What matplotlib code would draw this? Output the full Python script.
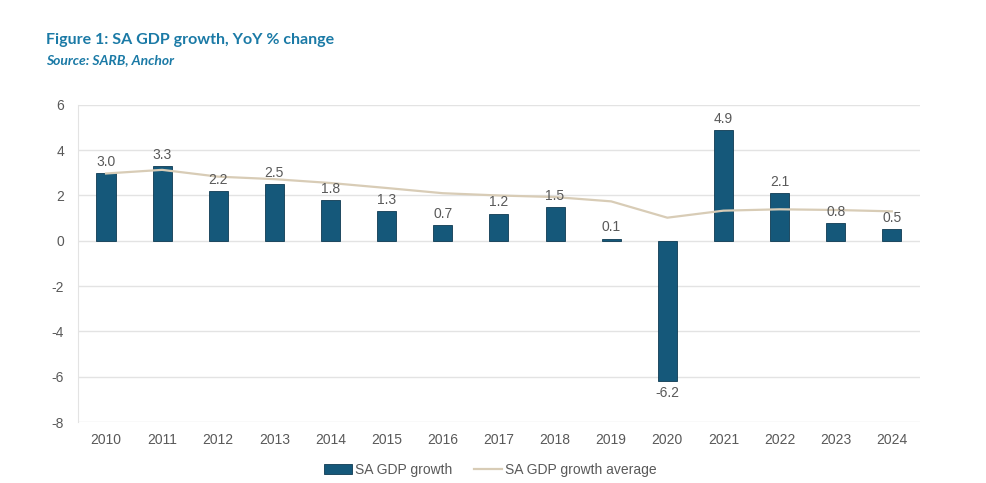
import matplotlib
matplotlib.use("Agg")
import matplotlib.pyplot as plt
import numpy as np

years = ["2010", "2011", "2012", "2013", "2014", "2015", "2016", "2017",
         "2018", "2019", "2020", "2021", "2022", "2023", "2024"]
gdp_growth = [3.0, 3.3, 2.2, 2.5, 1.8, 1.3, 0.7, 1.2, 1.5, 0.1, -6.2, 4.9, 2.1, 0.8, 0.5]
gdp_avg = [2.97, 3.13, 2.83, 2.72, 2.55, 2.33, 2.1, 2.0, 1.93, 1.74, 1.02, 1.33, 1.39, 1.36, 1.3]
yticks = [-8, -6, -4, -2, 0, 2, 4, 6]

bar_color = "#15587a"
line_color = "#d8ccb6"
text_gray = "#595959"

fig = plt.figure(figsize=(9.87, 4.83), dpi=100)
ax = fig.add_axes([0.079, 0.126, 0.853, 0.657])

x = np.arange(len(years))
bars = ax.bar(x, gdp_growth, width=0.34, color=bar_color, edgecolor="#0e3a52",
              linewidth=0.6, label="SA GDP growth", zorder=3)
line, = ax.plot(x, gdp_avg, color=line_color, linewidth=1.6, label="SA GDP growth average", zorder=4)

for xi, v in zip(x, gdp_growth):
    if v >= 0:
        ax.annotate(f"{v:.1f}", (xi, v), xytext=(0, 3), textcoords="offset points",
                    ha="center", va="bottom", fontsize=10, color=text_gray,
                    family="Liberation Sans", zorder=5)
    else:
        ax.annotate(f"{v:.1f}", (xi, v), xytext=(0, -3), textcoords="offset points",
                    ha="center", va="top", fontsize=10, color=text_gray,
                    family="Liberation Sans", zorder=5)

ax.set_xlim(-0.5, len(years) - 0.5)
ax.set_ylim(-8, 6)
ax.set_yticks(yticks)
ax.set_yticklabels([str(t) for t in yticks])
ax.set_xticks(x)
ax.set_xticklabels(years)
for lab in ax.get_xticklabels() + ax.get_yticklabels():
    lab.set_family("Liberation Sans")
    lab.set_fontsize(10)
    lab.set_color(text_gray)
ax.tick_params(axis="both", length=0, pad=8)
ax.tick_params(axis="y", pad=10)
ax.grid(axis="y", color="#e3e3e3", linewidth=1.0, zorder=0)
for s in ["top", "right", "bottom"]:
    ax.spines[s].set_visible(False)
ax.spines["left"].set_color("#e3e3e3")

leg = ax.legend([bars, line], ["SA GDP growth", "SA GDP growth average"],
                loc="upper center", bbox_to_anchor=(0.49, -0.09), ncol=2, frameon=False,
                prop={"family": "Liberation Sans", "size": 10}, handlelength=2.0,
                handleheight=0.7, handletextpad=0.2, columnspacing=1.6)
for t in leg.get_texts():
    t.set_color(text_gray)

fig.text(0.047, 0.918, "Figure 1: SA GDP growth, YoY % change", family="Lato",
         fontweight="bold", fontsize=11.5, color="#1b7aa6", va="center")
fig.text(0.047, 0.875, "Source: SARB, Anchor", family="Lato", fontstyle="italic",
         fontweight="bold", fontsize=10, color="#1b7aa6", va="center")

fig.savefig("out.png", dpi=100)
